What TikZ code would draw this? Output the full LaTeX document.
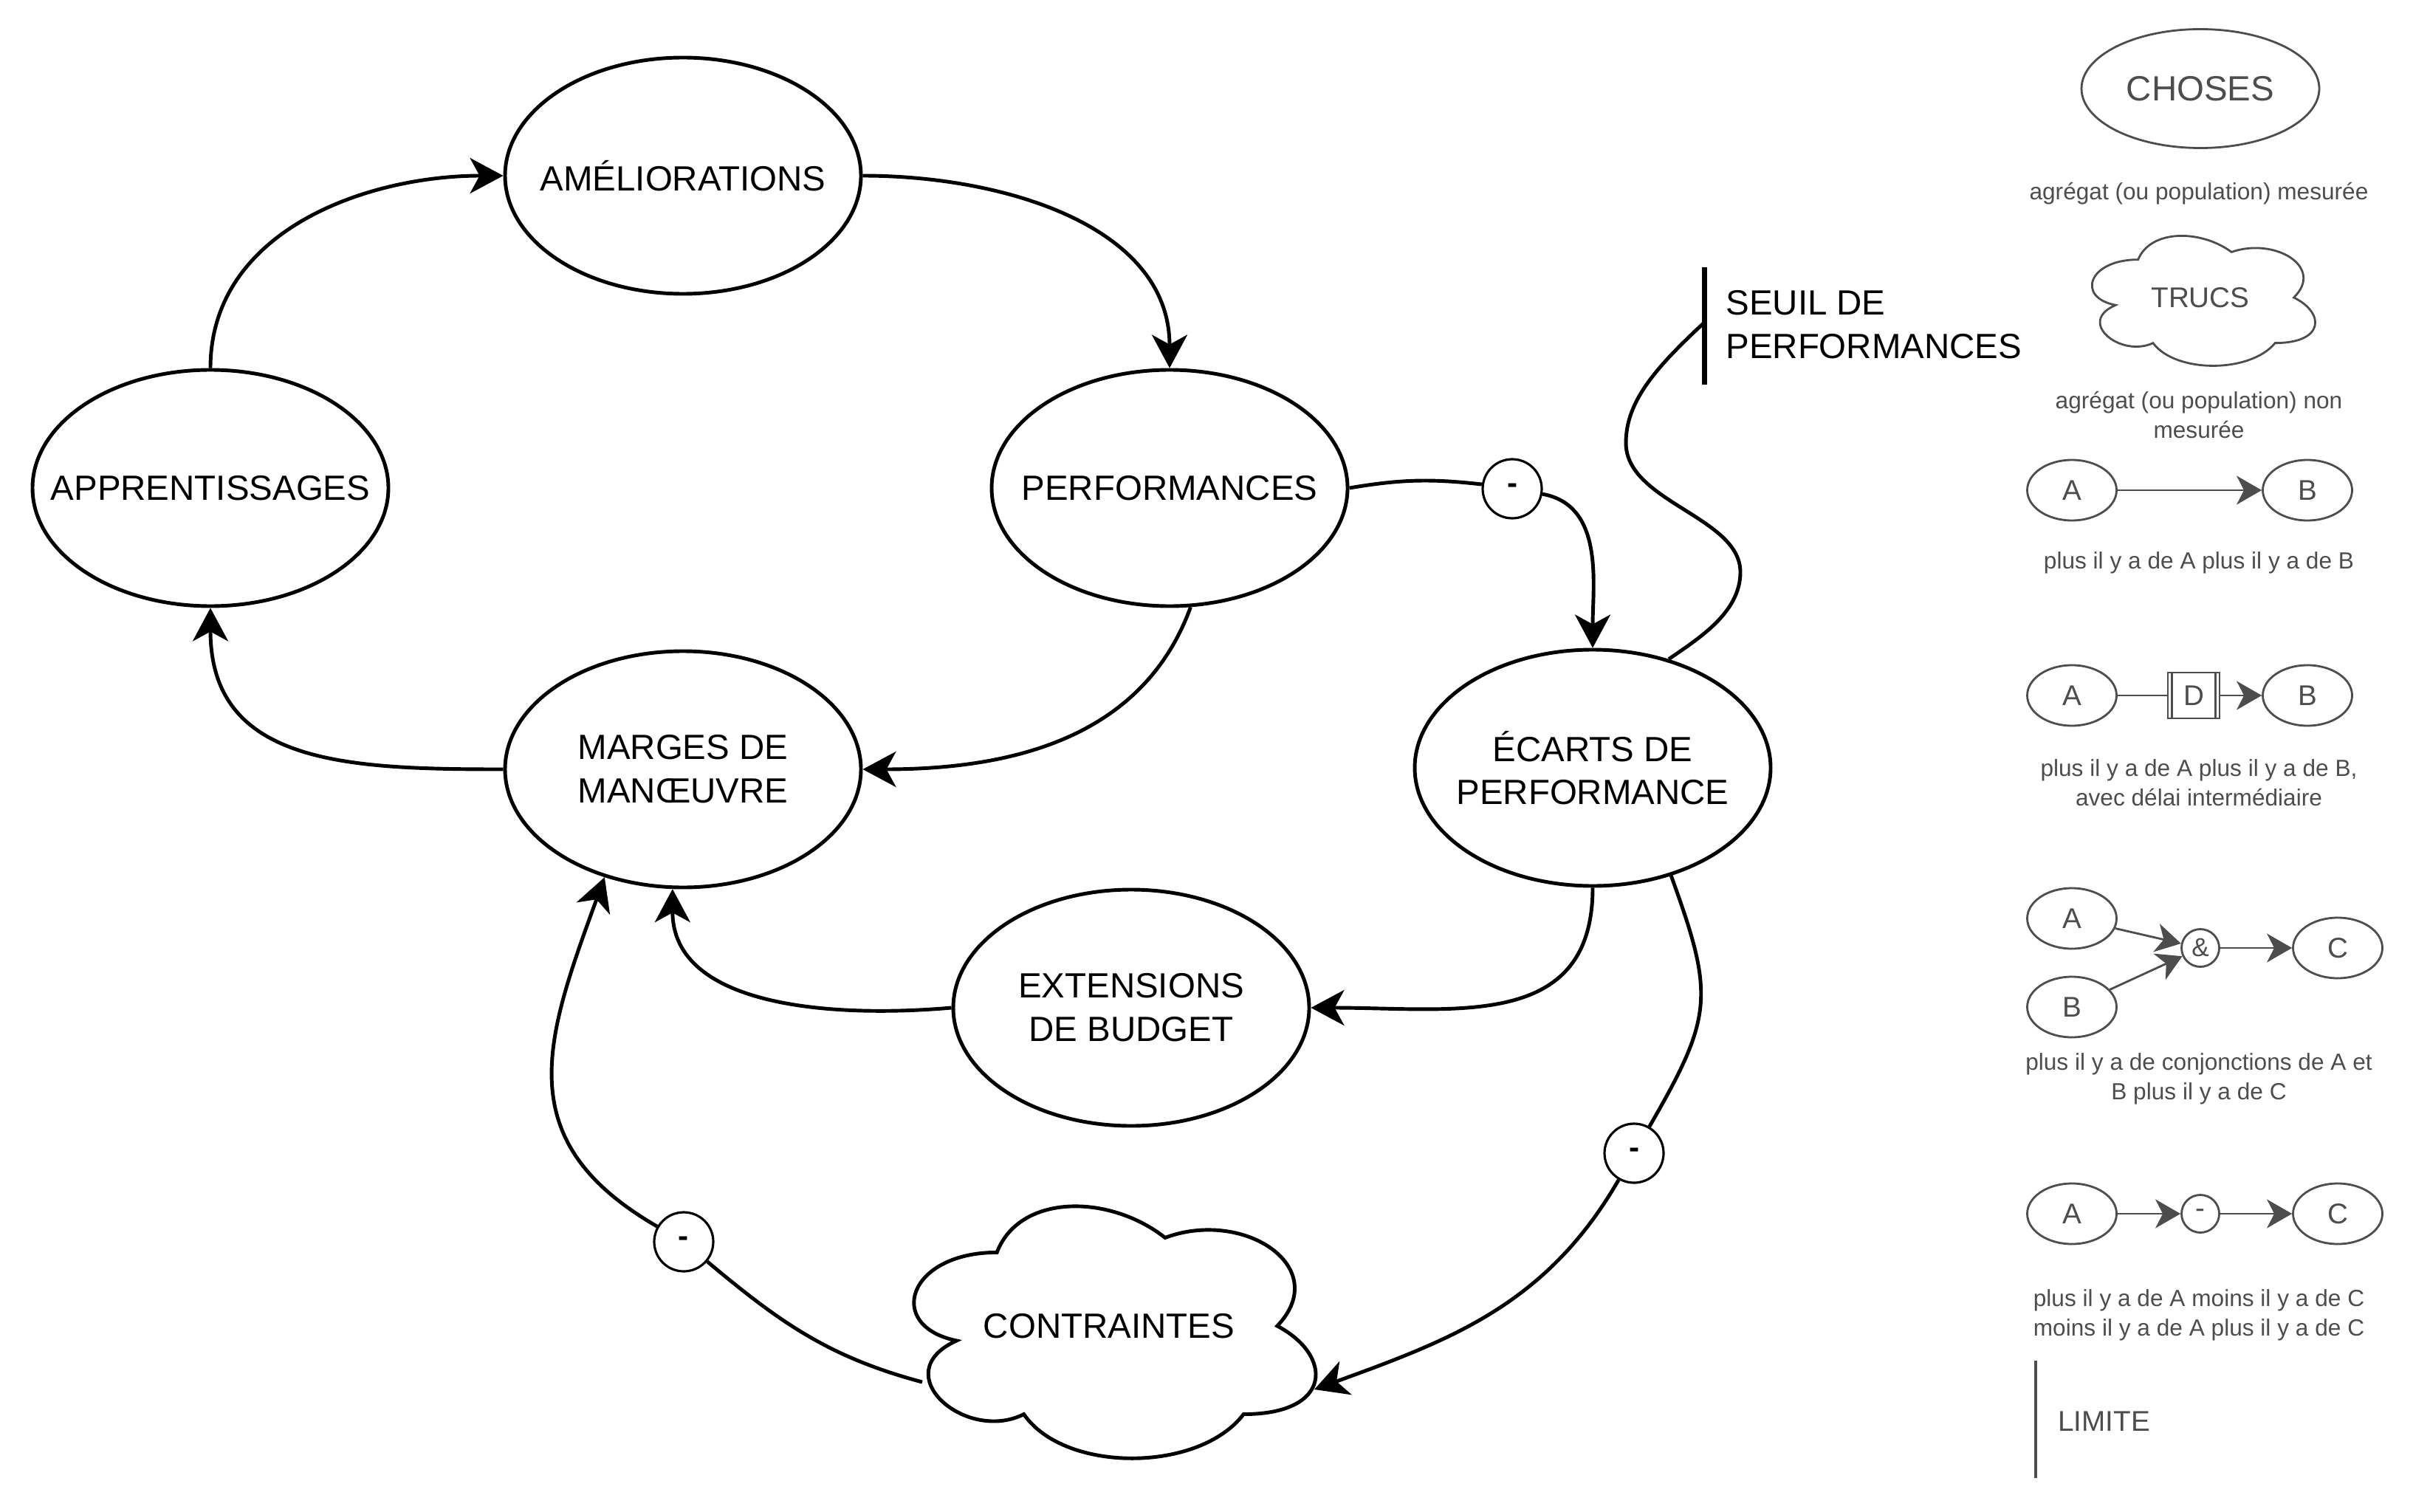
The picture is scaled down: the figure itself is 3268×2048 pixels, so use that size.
\documentclass[tikz,border=0pt]{standalone}
\usepackage{fontspec}
\setmainfont{Liberation Sans}
\usetikzlibrary{arrows.meta,shapes.geometric,calc}
\definecolor{legendgray}{HTML}{4D4D4D}

% cloud outline drawn in the box of a node
\newcommand{\cloudoutline}[2][]{%
  \begin{scope}[x={($(#2.north east)-(#2.north west)$)},
                y={($(#2.south west)-(#2.north west)$)},
                shift={(#2.north west)}]
    \draw[#1] (0.25,0.25) .. controls (0.05,0.25) and (0,0.5) .. (0.16,0.55)
      .. controls (0,0.66) and (0.18,0.9) .. (0.31,0.8)
      .. controls (0.4,1) and (0.7,1) .. (0.8,0.8)
      .. controls (1,0.8) and (1,0.6) .. (0.875,0.5)
      .. controls (1,0.3) and (0.8,0.1) .. (0.625,0.2)
      .. controls (0.5,0.05) and (0.3,0.05) .. (0.25,0.25) -- cycle;
  \end{scope}}

\begin{document}
\begin{tikzpicture}[x=0.1mm,y=-0.1mm,
  >={Stealth[length=4.5mm,width=4.8mm,inset=1.3mm]},
  font=\fontsize{13.5}{16.7}\selectfont,
  var/.style={ellipse,draw,line width=1.4pt,minimum width=48.2mm,minimum height=32mm,
    inner xsep=-6mm,inner ysep=0pt,align=center},
  cloudbox/.style={rectangle,inner sep=0pt,minimum width=60.6mm,minimum height=39.7mm},
  sign/.style={circle,draw,fill=white,line width=0.9pt,minimum size=8mm,inner sep=0pt,
    font=\fontsize{12}{14}\selectfont\bfseries},
  line/.style={line width=1.4pt},
  link/.style={->,line width=1.4pt},
  lgvar/.style={ellipse,draw=legendgray,text=legendgray,line width=0.8pt,inner sep=0pt,
    minimum width=12.1mm,minimum height=8.2mm,font=\fontsize{11}{13}\selectfont},
  lgsign/.style={circle,draw=legendgray,text=legendgray,line width=0.8pt,inner sep=0pt,
    minimum size=5.1mm,font=\fontsize{10}{12}\selectfont},
  delaybox/.style={rectangle,draw=legendgray,text=legendgray,line width=0.8pt,inner sep=0pt,
    minimum width=7mm,minimum height=6.2mm,font=\fontsize{11}{13}\selectfont},
  lgtext/.style={text=legendgray,align=center,font=\fontsize{9}{11.4}\selectfont},
  lgline/.style={draw=legendgray,line width=0.8pt},
  lglink/.style={-{Stealth[length=3.4mm,width=3.9mm,inset=1mm]},draw=legendgray,line width=0.8pt}]
  \useasboundingbox (0,0) rectangle (3268,2048);

  % main loop
  \node[var] (appr) at (285,661) {APPRENTISSAGES};
  \node[var] (amel) at (925,238) {AMÉLIORATIONS};
  \node[var] (perf) at (1584,661) {PERFORMANCES};
  \node[var] (marg) at (925,1042) {MARGES DE\\MANŒUVRE};
  \node[var] (ecart) at (2157,1040) {ÉCARTS DE\\PERFORMANCE};
  \node[var] (ext) at (1532,1365) {EXTENSIONS\\DE BUDGET};
  \node[cloudbox] (ctr) at (1502,1796) {CONTRAINTES};
  \cloudoutline[line width=1.4pt]{ctr}
  \coordinate (ctrin) at (1780,1882);
  \coordinate (ctrout) at (1249,1872);

  \node[sign] (m1) at (2048,662) {-};
  \node[sign] (m2) at (2213,1562) {-};
  \node[sign] (m3) at (926,1682) {-};

  \draw[link] (appr.north) to[out=90,in=180] (amel.west);
  \draw[link] (amel.east) to[out=0,in=90] (perf.north);
  \draw[link] (perf.-80) to[out=-110,in=0] (marg.east);
  \draw[link] (marg.west) to[out=180,in=-90,looseness=1.2] (appr.south);
  \draw[line] (perf.east) to[bend left=8] (m1);
  \draw[link] (m1) to[out=-10,in=90] (ecart.north);
  \draw[link] (ecart.south) to[out=-90,in=0,looseness=1.2] (ext.east);
  \draw[link] (ext.west) to[out=185,in=-90] (marg.-95);
  \draw[line] (ecart.-54) to[out=-70,in=60,looseness=1.3] (m2);
  \draw[link] (m2) to[out=-120,in=20] (ctrin);
  \draw[line] (ctrout) to[out=165,in=-40] (m3);
  \draw[link] (m3) to[out=150,in=-110,looseness=1.25] (marg.-126);

  % threshold
  \coordinate (seuiltop) at (2308,362);
  \coordinate (seuilbot) at (2308,521);
  \coordinate (seuilmid) at (2308,437);
  \draw[line width=2pt] (seuiltop) -- (seuilbot);
  \node[anchor=west,align=left] (seuil) at (2325,440) {SEUIL DE\\PERFORMANCES};
  \draw[line] (seuilmid) .. controls (2240,500) and (2202,545) .. (2202,600)
    .. controls (2202,680) and (2357,700) .. (2357,775)
    .. controls (2357,830) and (2300,865) .. (ecart.55);

  % legend
  \node[lgvar,minimum width=32.2mm,minimum height=16.1mm,font=\fontsize{13.5}{16}\selectfont]
    (chos) at (2980,120) {CHOSES};
  \node[lgtext] (chostxt) at (2978,262) {agrégat (ou population) mesurée};
  \node[cloudbox,text=legendgray,minimum width=33.6mm,minimum height=20.4mm,
    font=\fontsize{11}{13}\selectfont] (truc) at (2980,403) {TRUCS};
  \cloudoutline[legendgray,line width=0.8pt]{truc}
  \node[lgtext] (tructxt) at (2978,562) {agrégat (ou population) non\\mesurée};

  \node[lgvar] (a1) at (2806,664) {A};
  \node[lgvar] (b1) at (3125,664) {B};
  \draw[lglink] (a1) -- (b1);
  \node[lgtext] (t1) at (2978,762) {plus il y a de A plus il y a de B};

  \node[lgvar] (a2) at (2806,942) {A};
  \node[delaybox] (d2) at (2971,942) {D};
  \node[lgvar] (b2) at (3125,942) {B};
  \draw[lgline] (a2) -- (d2);
  \draw[lglink] (d2) -- (b2);
  \draw[lgline] ($(d2.north west)+(7,0)$) -- ($(d2.south west)+(7,0)$);
  \draw[lgline] ($(d2.north east)+(-7,0)$) -- ($(d2.south east)+(-7,0)$);
  \node[lgtext] (t2) at (2978,1060) {plus il y a de A plus il y a de B,\\avec délai intermédiaire};

  \node[lgvar] (a3) at (2806,1244) {A};
  \node[lgvar] (b3) at (2806,1364) {B};
  \node[lgsign] (and3) at (2980,1284) {\&};
  \node[lgvar] (c3) at (3166,1284) {C};
  \draw[lglink] (a3) -- (and3);
  \draw[lglink] (b3) -- (and3);
  \draw[lglink] (and3) -- (c3);
  \node[lgtext] (t3) at (2978,1461) {plus il y a de conjonctions de A et\\B plus il y a de C};

  \node[lgvar] (a4) at (2806,1644) {A};
  \node[lgsign,font=\fontsize{11}{13}\selectfont] (neg4) at (2980,1644) {-};
  \node[lgvar] (c4) at (3166,1644) {C};
  \draw[lglink] (a4) -- (neg4);
  \draw[lglink] (neg4) -- (c4);
  \node[lgtext] (t4) at (2978,1781) {plus il y a de A moins il y a de C\\moins il y a de A plus il y a de C};

  \coordinate (limtop) at (2757,1843);
  \coordinate (limbot) at (2757,2002);
  \draw[lgline,line width=1pt] (limtop) -- (limbot);
  \node[anchor=west,text=legendgray,font=\fontsize{11}{13}\selectfont] (lim) at (2775,1925) {LIMITE};
\end{tikzpicture}
\end{document}
